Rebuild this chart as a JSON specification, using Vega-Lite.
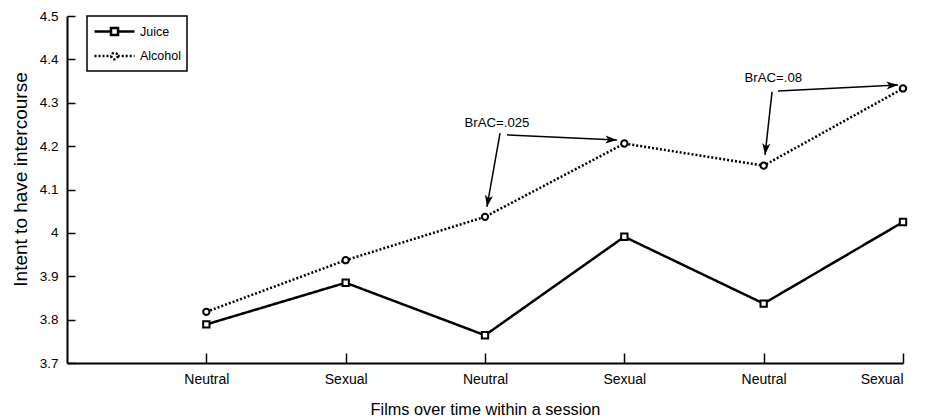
{
  "$schema": "https://vega.github.io/schema/vega-lite/v6.json",
  "width": 836,
  "height": 347,
  "autosize": "none",
  "padding": {"left": 67, "top": 16, "right": 32, "bottom": 54},
  "background": "white",
  "config": {
    "view": {"stroke": null},
    "font": "Liberation Sans",
    "axis": {
      "grid": false,
      "domainColor": "black",
      "domainWidth": 2,
      "tickColor": "black",
      "tickWidth": 1.5,
      "labelColor": "black",
      "titleColor": "black",
      "labelFont": "Liberation Sans",
      "titleFontWeight": "normal"
    },
    "legend": {
      "orient": "none",
      "legendX": 20,
      "legendY": 0,
      "strokeColor": "black",
      "strokeWidth": 1.5,
      "padding": 6,
      "labelFont": "Liberation Sans",
      "labelFontSize": 12.5,
      "labelColor": "black",
      "symbolSize": 256,
      "labelOffset": 28,
      "rowPadding": 5.6,
      "symbolStrokeWidth": 2.5,
      "symbolStrokeColor": "black",
      "symbolFillColor": "white"
    }
  },
  "datasets": {
    "means": [
      {"film": 1, "film_type": "Neutral", "beverage": "Juice", "intent": 3.789},
      {"film": 2, "film_type": "Sexual", "beverage": "Juice", "intent": 3.885},
      {"film": 3, "film_type": "Neutral", "beverage": "Juice", "intent": 3.764},
      {"film": 4, "film_type": "Sexual", "beverage": "Juice", "intent": 3.991},
      {"film": 5, "film_type": "Neutral", "beverage": "Juice", "intent": 3.837},
      {"film": 6, "film_type": "Sexual", "beverage": "Juice", "intent": 4.025},
      {"film": 1, "film_type": "Neutral", "beverage": "Alcohol", "intent": 3.818},
      {"film": 2, "film_type": "Sexual", "beverage": "Alcohol", "intent": 3.937},
      {"film": 3, "film_type": "Neutral", "beverage": "Alcohol", "intent": 4.037},
      {"film": 4, "film_type": "Sexual", "beverage": "Alcohol", "intent": 4.206},
      {"film": 5, "film_type": "Neutral", "beverage": "Alcohol", "intent": 4.155},
      {"film": 6, "film_type": "Sexual", "beverage": "Alcohol", "intent": 4.333}
    ],
    "notes": [
      {"film": 3.086, "intent": 4.253, "note": "BrAC=.025"},
      {"film": 5.069, "intent": 4.358, "note": "BrAC=.08"}
    ],
    "arrows": [
      {"film": 3.108, "intent": 4.230, "film2": 3.014, "intent2": 4.060},
      {"film": 3.158, "intent": 4.226, "film2": 3.947, "intent2": 4.214},
      {"film": 5.060, "intent": 4.325, "film2": 5.010, "intent2": 4.180},
      {"film": 5.103, "intent": 4.327, "film2": 5.964, "intent2": 4.341}
    ]
  },
  "layer": [
    {
      "data": {"name": "means"},
      "mark": {"type": "line", "color": "black", "strokeWidth": 2.5},
      "encoding": {
        "x": {
          "field": "film", "type": "quantitative",
          "scale": {"domain": [0, 6], "nice": false, "zero": false},
          "axis": {
            "values": [1, 2, 3, 4, 5, 6],
            "labelExpr": "datum.value % 2 == 1 ? 'Neutral' : 'Sexual'",
            "tickSize": -10,
            "labelPadding": 19,
            "labelFontSize": 14,
            "title": "Films over time within a session",
            "titleFont": "Liberation Sans",
            "titleFontSize": 16.3,
            "titleX": 418,
            "titleY": 51,
            "titleAlign": "center",
            "titleBaseline": "alphabetic"
          }
        },
        "y": {
          "field": "intent", "type": "quantitative",
          "scale": {"domain": [3.7, 4.5], "nice": false, "zero": false},
          "axis": {
            "values": [3.7, 3.8, 3.9, 4.0, 4.1, 4.2, 4.3, 4.4, 4.5],
            "format": ".1~f",
            "tickSize": -8,
            "labelPadding": 17,
            "labelFontSize": 13.5,
            "title": "Intent to have intercourse",
            "titleFont": "Liberation Sans",
            "titleFontSize": 19,
            "titleAngle": -90,
            "titleX": -41,
            "titleY": 163,
            "titleAlign": "center",
            "titleBaseline": "alphabetic"
          }
        },
        "strokeDash": {
          "field": "beverage", "type": "nominal",
          "scale": {"domain": ["Juice", "Alcohol"], "range": [[1, 0], [2, 2]]},
          "legend": {
            "title": null,
            "encode": {
              "symbols": {
                "update": {
                  "shape": {"signal": "datum.value === 'Juice' ? 'M-1,0H1.06M1.94,0H4M1.06,-0.44H1.94V0.44H1.06Z' : 'M-1,0H1.1M1.9,0H4M1.9,0A0.4,0.4 0 1 1 1.1,0A0.4,0.4 0 1 1 1.9,0Z'"},
                  "fill": {"value": "white"},
                  "stroke": {"value": "black"},
                  "strokeWidth": {"value": 2.5}
                }
              }
            }
          }
        }
      }
    },
    {
      "data": {"name": "means"},
      "mark": {"type": "point", "filled": true, "fill": "white", "stroke": "black", "strokeWidth": 2, "size": 40, "opacity": 1},
      "encoding": {
        "x": {"field": "film", "type": "quantitative"},
        "y": {"field": "intent", "type": "quantitative"},
        "shape": {
          "condition": {"test": "datum.beverage === 'Juice'", "value": "square"},
          "value": "circle"
        }
      }
    },
    {
      "data": {"name": "arrows"},
      "mark": {"type": "rule", "color": "black", "strokeWidth": 1.5},
      "encoding": {
        "x": {"field": "film", "type": "quantitative"},
        "y": {"field": "intent", "type": "quantitative"},
        "x2": {"field": "film2"},
        "y2": {"field": "intent2"}
      }
    },
    {
      "data": {"name": "arrows"},
      "transform": [
        {"calculate": "atan2((datum.film2 - datum.film) * 139.33, (datum.intent2 - datum.intent) * 433.75) * 180 / PI", "as": "heading"}
      ],
      "mark": {"type": "point", "filled": true, "color": "black", "opacity": 1, "shape": "M0,0L-0.35,1L0,0.75L0.35,1Z", "size": 529},
      "encoding": {
        "x": {"field": "film2", "type": "quantitative"},
        "y": {"field": "intent2", "type": "quantitative"},
        "angle": {"field": "heading", "type": "quantitative", "scale": null}
      }
    },
    {
      "data": {"name": "notes"},
      "mark": {"type": "text", "color": "black", "font": "Liberation Sans", "fontSize": 13.2, "align": "center", "baseline": "middle"},
      "encoding": {
        "x": {"field": "film", "type": "quantitative"},
        "y": {"field": "intent", "type": "quantitative"},
        "text": {"field": "note"}
      }
    }
  ]
}
